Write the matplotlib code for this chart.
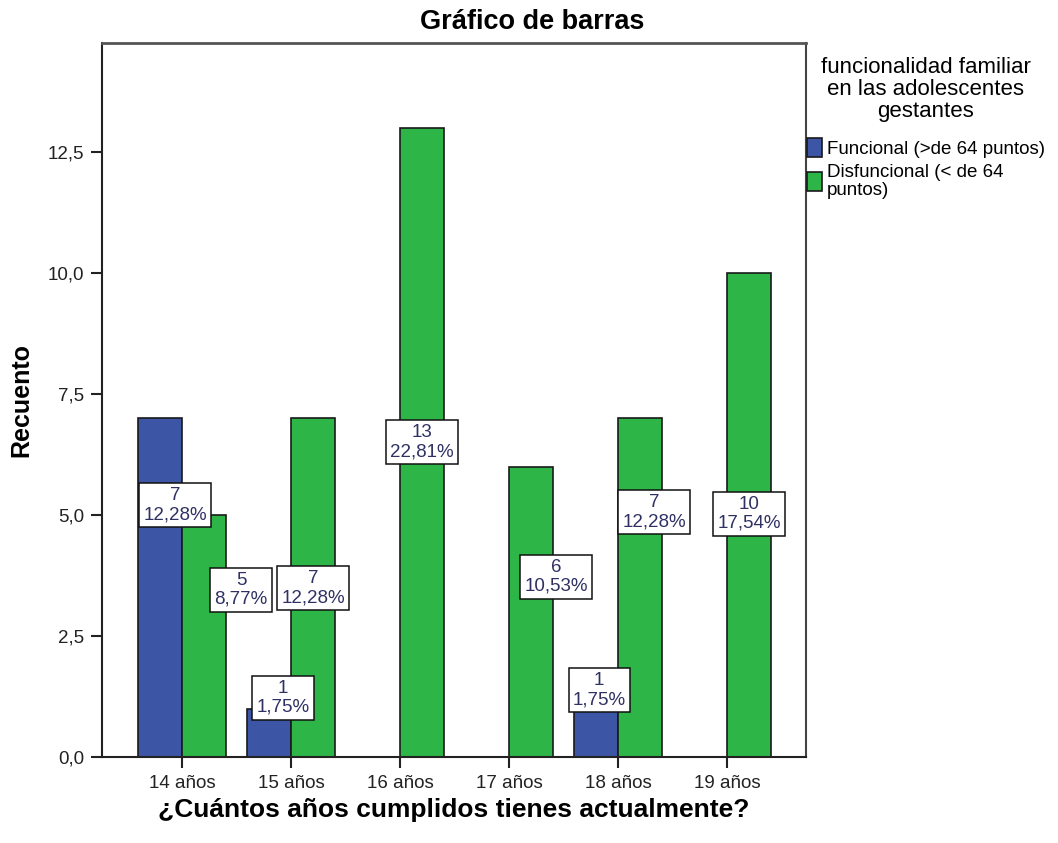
import matplotlib
matplotlib.use("Agg")
import matplotlib.pyplot as plt
import numpy as np

plt.rcParams['font.family'] = ['Liberation Sans', 'DejaVu Sans']

# ---- data ----
categories = ["14 años", "15 años", "16 años", "17 años", "18 años", "19 años"]
funcional = [7, 1, 0, 0, 1, 0]
disfuncional = [5, 7, 13, 6, 7, 10]
series_names = ["Funcional (>de 64 puntos)", "Disfuncional (< de 64\npuntos)"]
legend_title = "funcionalidad familiar\nen las adolescentes\ngestantes"
y_ticks = [0.0, 2.5, 5.0, 7.5, 10.0, 12.5]

# ---- label layout (annotation placement, SPSS-like) ----
func_lab_dx = [0.14, 0.13, 0, 0, 0.03, 0]
func_lab_y = [5.2, 1.22, 0, 0, 1.38, 0]
dis_lab_dx = [0.34, 0.0, 0.0, 0.23, 0.13, 0.0]
dis_lab_y = [3.45, 3.49, 6.5, 3.72, 5.06, 5.02]

c_blue = "#3c55a5"
c_green = "#2eb548"
lab_color = "#2f3163"

total = sum(funcional) + sum(disfuncional)

fig = plt.figure(figsize=(10.58, 8.43), dpi=100)
ax = fig.add_axes([102/1058, 86/843, (806-102)/1058, (757-43)/843])

x = np.arange(len(categories))
w = 0.405
b1 = ax.bar(x - w/2, funcional, width=w, color=c_blue, edgecolor="#1a1a1a", linewidth=1.2, label=series_names[0])
b2 = ax.bar(x + w/2, disfuncional, width=w, color=c_green, edgecolor="#1a1a1a", linewidth=1.2, label=series_names[1])

def fmt(v):
    return f"{v:.2f}".replace(".", ",") + "%"

box = dict(boxstyle="square,pad=0.22", fc="white", ec="#111111", lw=1.1)
for i, v in enumerate(funcional):
    if v > 0:
        ax.text(x[i] - w/2 + func_lab_dx[i], func_lab_y[i], f"{v}\n{fmt(100*v/total)}",
                ha="center", va="center", fontsize=13.5, color=lab_color, bbox=box,
                linespacing=1.15, zorder=5)
for i, v in enumerate(disfuncional):
    if v > 0:
        ax.text(x[i] + w/2 + dis_lab_dx[i], dis_lab_y[i], f"{v}\n{fmt(100*v/total)}",
                ha="center", va="center", fontsize=13.5, color=lab_color, bbox=box,
                linespacing=1.15, zorder=5)

ax.set_xlim(-0.735, 5.725)
ax.set_ylim(0, 14.75)
ax.set_xticks(x)
ax.set_xticklabels(categories, fontsize=13.5, color="#222222")
ax.set_yticks(y_ticks)
ax.set_yticklabels([f"{t:.1f}".replace(".", ",") for t in y_ticks], fontsize=13.5, color="#222222")
ax.tick_params(axis="both", direction="out", length=8, width=1.5, color="#222222", pad=5)

for s in ax.spines.values():
    s.set_color("#222222")
    s.set_linewidth(1.5)
ax.spines["top"].set_color("#555555")
ax.spines["top"].set_linewidth(2)
ax.spines["right"].set_color("#444444")

ax.set_ylabel("Recuento", fontsize=18, fontweight="bold", labelpad=10)
ax.set_xlabel("¿Cuántos años cumplidos tienes actualmente?", fontsize=19, fontweight="bold", labelpad=4)
fig.text(0.503, 1 - 22/843, "Gráfico de barras", ha="center", va="center", fontsize=19.5, fontweight="bold")

leg = ax.legend(handles=[b1, b2], labels=series_names, title=legend_title,
                loc="upper left", bbox_to_anchor=(807/1058, 1 - 57/843),
                bbox_transform=fig.transFigure, frameon=False, fontsize=13.5,
                title_fontsize=16, handlelength=0.8, handleheight=1.15,
                handletextpad=0.25, labelspacing=0.3, borderpad=0, borderaxespad=0,
                alignment="center")
leg.get_title().set_multialignment("center")
leg.get_title().set_linespacing(1.05)
leg._legend_box.sep = 12
for t in leg.get_texts():
    t.set_linespacing(1.1)

fig.savefig("out.png", dpi=100)
